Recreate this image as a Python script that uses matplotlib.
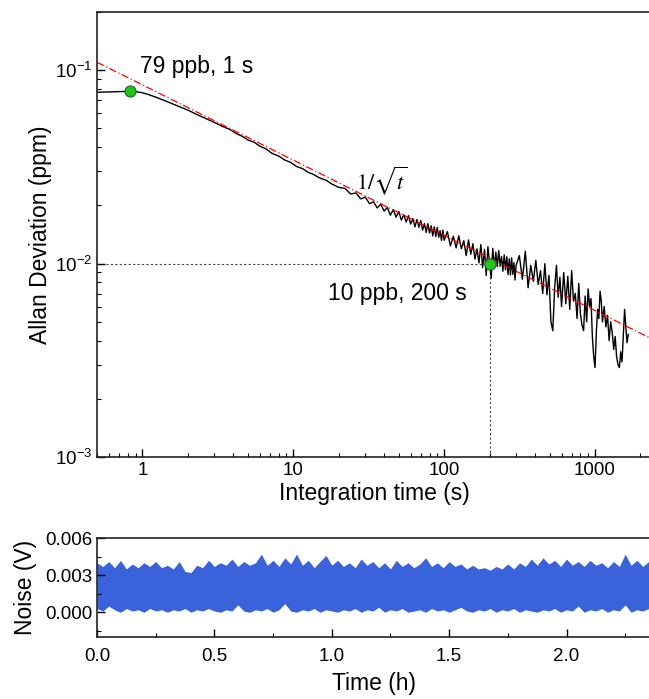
import numpy as np
import matplotlib
matplotlib.use("Agg")
from matplotlib import pyplot as plt
from matplotlib.ticker import MultipleLocator, LogLocator, NullFormatter

plt.rcParams["font.family"] = ["Liberation Sans", "DejaVu Sans"]
plt.rcParams["mathtext.fontset"] = "custom"
plt.rcParams["mathtext.rm"] = "Liberation Sans"
plt.rcParams["mathtext.it"] = "Liberation Sans:italic"
plt.rcParams["mathtext.bf"] = "Liberation Sans:bold"

# Allan deviation (ppm) against integration time (s)
tau_early = [0.5, 0.55, 0.6, 0.7, 0.8, 0.9, 1.0, 1.1, 1.25, 1.4, 1.6, 1.8,
             2.0, 2.3, 2.6, 3.0, 3.4, 3.8, 4.2, 4.6, 5.0, 5.5, 6.0, 6.6,
             7.2, 8.0, 8.8, 9.6, 10.5, 11.5, 12.5, 13.5, 15, 16.5, 18]
adev_early = [0.0770, 0.0771, 0.0772, 0.0775, 0.0778, 0.0775, 0.0765, 0.0748,
              0.0722, 0.0697, 0.0668, 0.0643, 0.0622, 0.0590, 0.0565, 0.0537,
              0.0512, 0.0494, 0.0470, 0.0455, 0.0436, 0.0424, 0.0405, 0.0392,
              0.0372, 0.0360, 0.0343, 0.0334, 0.0318, 0.0310, 0.0297, 0.0290,
              0.0277, 0.0270, 0.0258]

tau_mid = list(range(20, 101, 2))
adev_mid = [0.0248, 0.0245, 0.0229, 0.0232, 0.0216, 0.0221, 0.0204, 0.0209,
            0.0194, 0.0203, 0.0187, 0.0195, 0.0178, 0.0190, 0.0174, 0.0186,
            0.0168, 0.0179, 0.0164, 0.0177, 0.0160, 0.0171, 0.0155, 0.0169,
            0.0154, 0.0167, 0.0149, 0.0161, 0.0145, 0.0161, 0.0144, 0.0157,
            0.0139, 0.0155, 0.0138, 0.0154, 0.0137, 0.0148, 0.0132, 0.0149,
            0.0132]

tau_late = list(range(105, 301, 5))
adev_late = [0.01463, 0.01235, 0.01385, 0.01206, 0.01392, 0.01194, 0.01313,
             0.01100, 0.01326, 0.01118, 0.01268, 0.01056, 0.01192, 0.01008,
             0.01254, 0.00953, 0.01184, 0.00868, 0.01224, 0.00999, 0.00842,
             0.01199, 0.00951, 0.01147, 0.00964, 0.01168, 0.00968, 0.01089,
             0.00913, 0.01110, 0.00928, 0.01085, 0.00877, 0.01060, 0.00873,
             0.01072, 0.00880, 0.01012, 0.00823, 0.00981]

tau_tail = [315, 330, 345, 360, 375, 390, 405, 420, 435, 450, 465, 480, 495,
            510, 525, 540, 555, 570, 585, 600, 620, 640, 660, 680, 700, 720,
            740, 760, 780, 800, 820, 840, 860, 880, 900, 920, 940, 960, 980,
            1000, 1020, 1040, 1060, 1080, 1100, 1120, 1150, 1180, 1210, 1240,
            1270, 1300, 1330, 1360, 1390, 1420, 1450, 1480, 1510, 1540, 1570,
            1600, 1630, 1660]
adev_tail = [0.0110, 0.0083, 0.0116, 0.0075, 0.0098, 0.0081, 0.0104, 0.0078,
             0.0092, 0.0070, 0.0100, 0.0069, 0.0087, 0.0050, 0.0045, 0.0075,
             0.0098, 0.0067, 0.0085, 0.0060, 0.0090, 0.0062, 0.0086, 0.0058,
             0.0092, 0.0064, 0.0070, 0.0052, 0.0079, 0.0055, 0.0048, 0.0045,
             0.0068, 0.0050, 0.0074, 0.0060, 0.0066, 0.0042, 0.0033, 0.0029,
             0.0044, 0.0058, 0.0052, 0.0072, 0.0064, 0.0050, 0.0060, 0.0047,
             0.0054, 0.0040, 0.0050, 0.0044, 0.0036, 0.0042, 0.0033, 0.0030,
             0.0029, 0.0035, 0.0031, 0.0042, 0.0058, 0.0047, 0.0039, 0.0043]

# 1/sqrt(t) guide line, end points
fit_tau = [0.5, 2350]
fit_adev = [0.110, 0.0041]

# highlighted points
mark_tau = [0.83, 200]
mark_adev = [0.0778, 0.0100]
mark_text = ["79 ppb, 1 s", "10 ppb, 200 s"]

# raw noise record (mV): upper and lower edge of the trace
noise_hi = [4.0, 3.7, 4.1, 3.6, 4.2, 3.5, 3.9, 3.6, 4.0, 3.7,
            4.1, 3.6, 3.8, 3.5, 4.1, 3.3, 3.2, 3.8, 3.6, 4.2,
            3.7, 4.0, 3.8, 4.3, 3.7, 4.1, 3.8, 4.0, 4.7, 3.8,
            4.2, 3.7, 4.4, 3.9, 4.7, 3.8, 4.2, 3.6, 4.1, 4.6,
            3.8, 4.2, 3.7, 4.0, 3.6, 4.3, 3.8, 4.1, 3.6, 4.0,
            3.5, 4.2, 3.7, 4.0, 3.6, 3.9, 4.4, 3.7, 4.0, 3.6,
            4.1, 3.7, 3.9, 3.5, 3.8, 3.5, 3.6, 3.4, 3.7, 3.5,
            3.9, 3.5, 4.0, 3.7, 4.3, 3.8, 4.4, 3.9, 4.2, 3.7,
            4.3, 3.8, 4.1, 3.7, 4.2, 3.8, 4.0, 3.6, 4.1, 3.7,
            4.7, 3.8, 4.2, 3.7, 4.1]
noise_lo = [0.3, 0.1, 0.5, 0.2, 0.0, 0.3, 0.1, 0.2, 0.0, 0.3,
            0.1, 0.2, 0.0, 0.2, 0.1, 0.3, 0.0, 0.2, 0.1, 0.3,
            0.1, 0.0, 0.2, 0.1, 0.6, 0.1, 0.0, 0.2, 0.1, 0.3,
            0.0, 0.2, 0.7, 0.1, 0.0, 0.2, 0.1, 0.3, 0.0, 0.2,
            0.1, 0.0, 0.2, 0.1, 0.3, 0.0, 0.2, 0.1, 0.4, 0.0,
            0.2, 0.1, 0.3, 0.0, 0.1, 0.2, 0.0, 0.3, 0.1, 0.2,
            0.0, 0.2, 0.4, 0.1, 0.0, 0.2, 0.1, 0.3, 0.0, 0.2,
            0.1, 0.3, 0.0, 0.2, 0.1, 0.0, 0.2, 0.1, 0.3, 0.0,
            0.2, 0.1, 0.5, 0.0, 0.2, 0.1, 0.3, 0.0, 0.2, 0.1,
            0.6, 0.0, 0.2, 0.1, 0.3]
noise_t = np.linspace(0, 2.35, len(noise_hi))  # record time (h)

tau = tau_early + tau_mid + tau_late + tau_tail
adev = adev_early + adev_mid + adev_late + adev_tail

fig = plt.figure(figsize=(6.49, 6.99), dpi=100)

# ---- Allan deviation ----
ax = fig.add_axes([0.1495, 0.3462, 0.8536, 0.6366])
ax.set_xscale("log")
ax.set_yscale("log")
ax.set_xlim(0.5, 2350)
ax.set_ylim(1e-3, 0.2)

ax.plot(fit_tau, fit_adev, color="red", lw=0.9, ls=(0, (6, 2, 1, 2)), zorder=3)
ax.plot(tau, adev, color="black", lw=1.0, zorder=2)

# guide lines to the 200 s point
ax.plot([ax.get_xlim()[0], mark_tau[1]], [mark_adev[1], mark_adev[1]],
        color="#444444", lw=0.8, ls=(0, (2, 2)), zorder=1)
ax.plot([mark_tau[1], mark_tau[1]], [ax.get_ylim()[0], mark_adev[1]],
        color="#444444", lw=0.8, ls=(0, (2, 2)), zorder=1)
ax.plot(mark_tau, mark_adev, "o", ms=8, mfc="#22c422", mec="#1a6e1a",
        mew=0.8, zorder=5)

ax.text(0.97, 0.104, mark_text[0], fontsize=16.5, va="center", ha="left")
ax.text(17, 0.0070, mark_text[1], fontsize=16.5, va="center", ha="left")
ax.text(26, 0.0269, r"$1/\sqrt{t}$", fontsize=16, va="center", ha="left",
        math_fontfamily="stix")

ax.set_xlabel("Integration time (s)", fontsize=16.5, labelpad=2)
ax.set_ylabel("Allan Deviation (ppm)", fontsize=16.5)
ax.yaxis.set_label_coords(-0.082, 0.5)

ax.xaxis.set_minor_locator(LogLocator(base=10, subs=np.arange(2, 10), numticks=20))
ax.xaxis.set_minor_formatter(NullFormatter())
ax.set_xticks([1, 10, 100, 1000])
ax.set_xticklabels(["1", "10", "100", "1000"])
ax.yaxis.set_minor_formatter(NullFormatter())
ax.tick_params(which="both", direction="in", top=False, right=False,
               labelsize=13.5)
ax.tick_params(which="major", length=6, width=1)
ax.tick_params(which="minor", length=3, width=0.8)
ax.spines["right"].set_visible(False)
for s in ["left", "bottom", "top"]:
    ax.spines[s].set_linewidth(1.2)
    ax.spines[s].set_color("#222222")

# ---- raw noise ----
ax2 = fig.add_axes([0.1495, 0.0887, 0.8536, 0.1416])
ax2.fill_between(noise_t, np.array(noise_lo) / 1000, np.array(noise_hi) / 1000,
                 color="#3a62da", lw=0)
ax2.set_xlim(0, 2.36)
ax2.set_ylim(-0.002, 0.006)
ax2.yaxis.set_major_locator(MultipleLocator(0.003))
ax2.yaxis.set_minor_locator(MultipleLocator(0.0015))
ax2.xaxis.set_major_locator(MultipleLocator(0.5))
ax2.xaxis.set_minor_locator(MultipleLocator(0.25))
ax2.yaxis.set_major_formatter(plt.FormatStrFormatter("%.3f"))
ax2.xaxis.set_major_formatter(plt.FormatStrFormatter("%.1f"))
ax2.tick_params(which="both", direction="in", top=False, right=False,
                labelsize=13.5)
ax2.tick_params(which="major", length=6, width=1)
ax2.tick_params(which="minor", length=3, width=0.8)
ax2.tick_params(axis="x", pad=8)
ax2.set_xlabel("Time (h)", fontsize=16.5, labelpad=5)
ax2.set_ylabel("Noise (V)", fontsize=16.5)
ax2.yaxis.set_label_coords(-0.108, 0.5)
ax2.spines["right"].set_visible(False)
for s in ["left", "bottom", "top"]:
    ax2.spines[s].set_linewidth(1.2)
    ax2.spines[s].set_color("#222222")

fig.savefig("out.png", dpi=100)
